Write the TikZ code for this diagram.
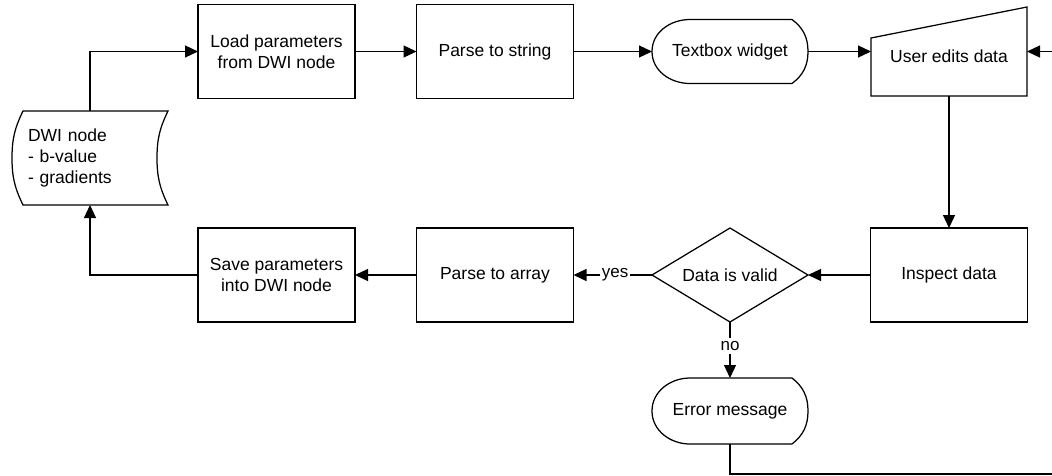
\documentclass[tikz,border=0pt]{standalone}
\usepackage{fontspec}
\setmainfont{Liberation Sans}
\usetikzlibrary{arrows.meta,calc}
\begin{document}
\begin{tikzpicture}[x=1pt,y=-1pt,
  line width=1.25pt,
  every node/.style={font=\fontsize{17.5}{21}\selectfont, inner sep=0pt, outer sep=0pt},
  procbox/.style={draw, minimum width=157pt, minimum height=94pt, align=center},
  shapebox/.style={minimum width=156pt, align=center},
  arr/.style={-{Triangle[length=13pt,width=12pt]}},
  lbl/.style={fill=white, inner xsep=1.5pt, inner ysep=3pt, font=\fontsize{17}{20}\selectfont},
]
\useasboundingbox (0,0) rectangle (1052,475);

% nodes
\node[procbox] (load) at (276.5,51.5) {Load parameters\\from DWI node};
\node[procbox] (pstr) at (495,51.5) {Parse to string};
\node[shapebox, minimum height=64pt] (tbw) at (730,51.5) {Textbox widget};
\node[shapebox, minimum height=89pt] (ued) at (949,51.5) {};
\node (uedt) at ([yshift=-5pt]ued.center) {User edits data};
\node[minimum height=94pt, text width=124pt, inner xsep=16pt, align=left] (dwi) at (90,158) {DWI node\\- b-value\\- gradients};
\node[procbox] (save) at (276.5,275) {Save parameters\\into DWI node};
\node[procbox] (parr) at (495,275) {Parse to array};
\node[shapebox, minimum height=94pt] (valid) at (730,275) {Data is valid};
\node[procbox] (insp) at (949,275) {Inspect data};
\node[shapebox, minimum height=66pt] (err) at (730,411) {Error message};
\coordinate (c1) at (1052.3,474);

% special outlines
\draw ([xshift=38pt]tbw.south west) to[out=180,in=-90] (tbw.west) to[out=90,in=180] ([xshift=38pt]tbw.north west)
  -- ([xshift=-16pt]tbw.north east) to[out=-37,in=90] (tbw.east) to[out=-90,in=37] ([xshift=-16pt]tbw.south east) -- cycle;
\draw ([xshift=38pt]err.south west) to[out=180,in=-90] (err.west) to[out=90,in=180] ([xshift=38pt]err.north west)
  -- ([xshift=-16pt]err.north east) to[out=-38,in=90] (err.east) to[out=-90,in=38] ([xshift=-16pt]err.south east) -- cycle;
\draw ([xshift=11pt]dwi.north west) -- (dwi.north east) to[out=-116,in=90] ([xshift=-11pt]dwi.east)
  to[out=-90,in=116] (dwi.south east) -- ([xshift=11pt]dwi.south west) to[out=116,in=-90] (dwi.west)
  to[out=90,in=-116] ([xshift=11pt]dwi.north west) -- cycle;
\draw (valid.north) -- (valid.east) -- (valid.south) -- (valid.west) -- cycle;
\draw ([yshift=-31pt]ued.north west) -- (ued.north east) -- (ued.south east) -- (ued.south west) -- cycle;

% connectors
\draw[arr] (dwi.north) |- (load.west);
\draw[arr] (load.east) -- (pstr.west);
\draw[arr] (pstr.east) -- (tbw.west);
\draw[arr] (tbw.east) -- (ued.west);
\draw[arr] (ued.south) -- (insp.north);
\draw[arr] (insp.west) -- (valid.east);
\draw[arr] (valid.west) -- node[lbl, pos=0.47] (yes) {yes} (parr.east);
\draw[arr] (valid.south) -- node[lbl, pos=0.43] (no) {no} (err.north);
\draw[arr] (err.south) |- (c1) |- (ued.east);
\draw[arr] (parr.west) -- (save.east);
\draw[arr] (save.west) -| (dwi.south);
\end{tikzpicture}
\end{document}
